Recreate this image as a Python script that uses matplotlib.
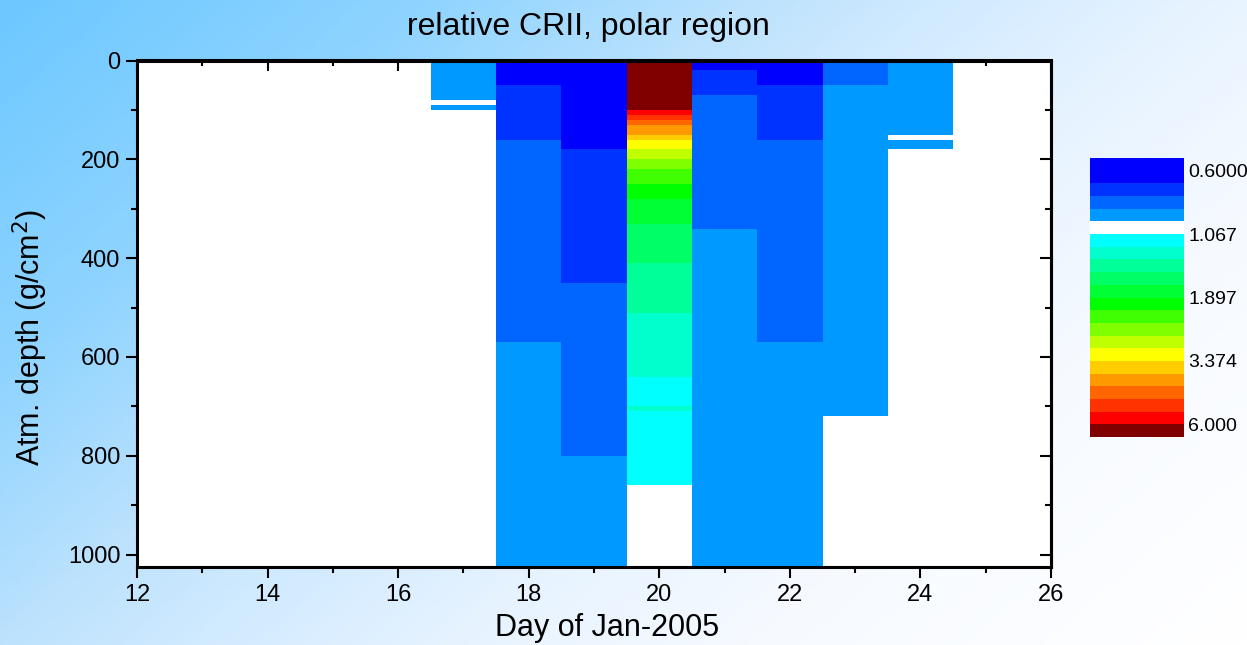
import numpy as np
import matplotlib
matplotlib.use('Agg')
import matplotlib.pyplot as plt
from matplotlib.colors import ListedColormap, BoundaryNorm, LinearSegmentedColormap
from matplotlib.ticker import MultipleLocator

plt.rcParams['font.family'] = ['Liberation Sans', 'DejaVu Sans']

# contour levels: 20 log-spaced steps between 0.6 and 6.0
levels = 0.6 * 10 ** (0.05 * np.arange(21))
level_labels = ['0.6000', '1.067', '1.897', '3.374', '6.000']
label_levels = [0, 5, 10, 15, 20]

band_colors = ['#0000FF', '#0033FF', '#0066FF', '#0099FF', '#FFFFFF',
               '#00FFFF', '#00FFCC', '#00FF99', '#00FF66', '#00FF33',
               '#00FF00', '#40FF00', '#80FF00', '#C0FF00', '#FFFF00',
               '#FFCC00', '#FF9900', '#FF6600', '#FF3300', '#FF0000']
under_color = '#0000FF'
over_color = '#800000'

# one column per day, each with its own layer edges (g/cm^2) and values
days = [17, 18, 19, 20, 21, 22, 23, 24]
layer_edges = [
    [0, 80, 90, 100],
    [0, 50, 160, 450, 570, 800, 1030],
    [0, 180, 450, 800, 1030],
    [0, 100, 110, 120, 130, 150, 160, 180, 200, 220, 250, 280, 330, 410,
     510, 640, 700, 710, 860],
    [0, 20, 70, 340, 570, 1030],
    [0, 50, 160, 570, 1030],
    [0, 50, 150, 570, 720],
    [0, 150, 160, 180],
]
layer_values = [
    [0.90, 1.00, 0.90],
    [0.58, 0.72, 0.80, 0.79, 0.90, 0.88],
    [0.62, 0.71, 0.79, 0.90],
    [6.80, 5.60, 5.00, 4.50, 4.00, 3.60, 3.20, 2.85, 2.50, 2.25, 2.00,
     1.80, 1.60, 1.42, 1.27, 1.13, 1.22, 1.10],
    [0.64, 0.70, 0.80, 0.90, 0.92],
    [0.63, 0.72, 0.81, 0.91],
    [0.80, 0.89, 0.90, 0.92],
    [0.90, 1.00, 0.88],
]

W, H = 1247, 645
fig = plt.figure(figsize=(W / 100, H / 100), dpi=100)

# light blue diagonal backdrop
bg = fig.add_axes([0, 0, 1, 1], zorder=-10)
u = np.linspace(0, 1, 400)[None, :]
v = np.linspace(0, 1, 200)[:, None]
grad = (u + 0.6 * v) / 1.6
bg_cmap = LinearSegmentedColormap.from_list(
    'bg', [(0.0, '#6CC8FF'), (0.22, '#90D4FF'), (0.375, '#BCE2FD'),
           (0.47, '#D0EAFF'), (0.6, '#E6F3FF'), (0.75, '#F6FAFF'),
           (1.0, '#FFFFFF')])
bg.imshow(grad, cmap=bg_cmap, aspect='auto', extent=[0, 1, 1, 0])
bg.axis('off')

cmap = ListedColormap(band_colors)
cmap.set_under(under_color)
cmap.set_over(over_color)
norm = BoundaryNorm(levels, cmap.N)

ax = fig.add_axes([137 / W, 1 - 567 / H, (1051 - 137) / W, (567 - 60.5) / H])
ax.set_facecolor('white')
for day, edges, vals in zip(days, layer_edges, layer_values):
    ax.pcolormesh([day - 0.5, day + 0.5], edges, np.array(vals).reshape(-1, 1),
                  cmap=cmap, norm=norm, shading='flat',
                  antialiased=False, linewidth=0)

ax.set_xlim(12, 26)
ax.set_ylim(1025, 0)
ax.xaxis.set_major_locator(MultipleLocator(2))
ax.xaxis.set_minor_locator(MultipleLocator(1))
ax.yaxis.set_major_locator(MultipleLocator(200))
ax.yaxis.set_minor_locator(MultipleLocator(100))
ax.tick_params(which='major', direction='out', length=8, width=1.5,
               labelsize=17, pad=4)
ax.tick_params(which='minor', direction='out', length=4.5, width=1.5)
for sp in ax.spines.values():
    sp.set_linewidth(2.2)

# mirrored inward ticks on top and right
top = ax.secondary_xaxis('top')
top.xaxis.set_major_locator(MultipleLocator(2))
top.xaxis.set_minor_locator(MultipleLocator(1))
top.tick_params(which='major', direction='in', length=8, width=1.5, labeltop=False)
top.tick_params(which='minor', direction='in', length=4.5, width=1.5)
top.spines['top'].set_linewidth(2.2)
right = ax.secondary_yaxis('right')
right.yaxis.set_major_locator(MultipleLocator(200))
right.yaxis.set_minor_locator(MultipleLocator(100))
right.tick_params(which='major', direction='in', length=8, width=1.5, labelright=False)
right.tick_params(which='minor', direction='in', length=4.5, width=1.5)
right.spines['right'].set_linewidth(2.2)

fig.text(588 / W, 1 - 35 / H, 'relative CRII, polar region', ha='center',
         va='baseline', fontsize=23)
fig.text(607 / W, 1 - 636 / H, 'Day of Jan-2005', ha='center',
         va='baseline', fontsize=22)
fig.text(30 / W, 1 - 337 / H, 'Atm. depth (g/cm$^2$)', rotation=90,
         ha='center', va='center', fontsize=22)

# stepped colour scale, under/over bands at the ends
cax = fig.add_axes([1090 / W, 1 - 437 / H, 94 / W, 279 / H])
scale_colors = [under_color] + band_colors + [over_color]
n = len(scale_colors)
cax.pcolormesh([0, 1], np.arange(n + 1), np.arange(n).reshape(-1, 1),
               cmap=ListedColormap(scale_colors), vmin=-0.5, vmax=n - 0.5,
               antialiased=False, linewidth=0)
cax.set_xlim(0, 1)
cax.set_ylim(n, 0)
cax.set_xticks([])
cax.yaxis.tick_right()
cax.set_yticks([k + 1 for k in label_levels])
cax.set_yticklabels(level_labels)
cax.tick_params(axis='y', length=0, pad=3, labelsize=14)
for sp in cax.spines.values():
    sp.set_visible(False)

fig.savefig('out.png', dpi=100)
